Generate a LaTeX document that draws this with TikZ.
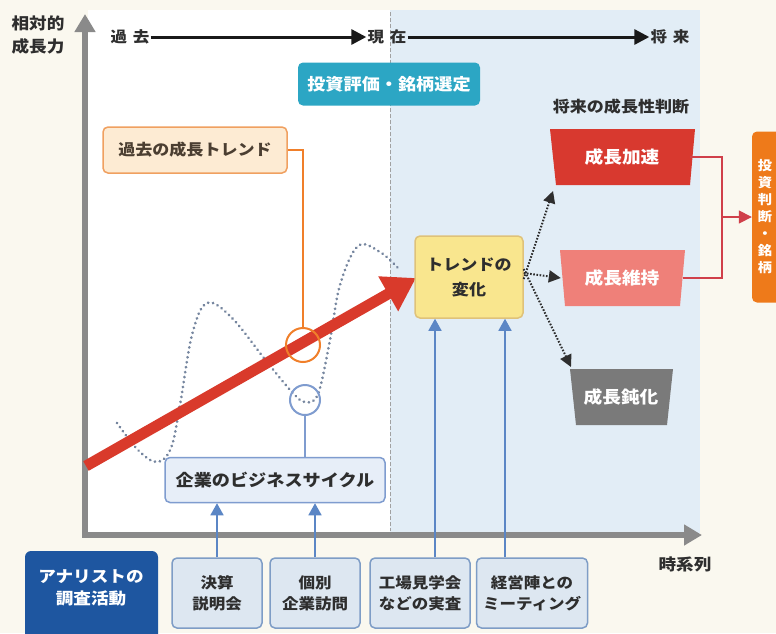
\documentclass[tikz,border=0pt]{standalone}
\usepackage{fontspec}
\setmainfont{Noto Sans CJK JP}[FakeStretch=1.1]
\usetikzlibrary{arrows.meta}
\definecolor{cream}{HTML}{FAF8EF}
\definecolor{panelblue}{HTML}{E2EDF6}
\definecolor{axisgray}{HTML}{8A8A8A}
\definecolor{txt}{HTML}{2E2E2E}
\definecolor{teal}{HTML}{2CA6C4}
\definecolor{accred}{HTML}{D8392F}
\definecolor{pinkred}{HTML}{EF8079}
\definecolor{slowgray}{HTML}{7A7A7A}
\definecolor{outorange}{HTML}{EE7A1A}
\definecolor{trendred}{HTML}{D93A2B}
\definecolor{orangeline}{HTML}{F07F2A}
\definecolor{peach}{HTML}{FDEBD3}
\definecolor{peachborder}{HTML}{F0A060}
\definecolor{yellowfill}{HTML}{F9E68E}
\definecolor{yellowborder}{HTML}{DFC27A}
\definecolor{bizfill}{HTML}{E7EEF8}
\definecolor{bizborder}{HTML}{7F9CCF}
\definecolor{botfill}{HTML}{DDE7F1}
\definecolor{botborder}{HTML}{7E9DC6}
\definecolor{arrowblue}{HTML}{5B86C5}
\definecolor{navy}{HTML}{1E56A0}
\definecolor{wavegray}{HTML}{76869F}
\definecolor{connred}{HTML}{D0404A}
\newcommand\fsz[2]{\fontsize{#1}{#2}\selectfont\bfseries}
\tikzset{
  lbl/.style={inner sep=1pt, text=txt, align=center},
  panelbox/.style={rounded corners=5pt, align=center, inner sep=0pt},
  lightbox/.style={panelbox, draw=botborder, fill=botfill, line width=1.5pt, text=txt, font=\fsz{15}{21}},
  upblue/.style={draw=arrowblue, line width=1.6pt, -{Triangle[length=12pt,width=13pt]}},
  dotarrow/.style={draw=txt, line width=2pt, dash pattern=on 1.6pt off 1.6pt, -{Triangle[length=12pt,width=12pt]}},
  blackarrow/.style={draw=black!90, line width=3pt, -{Triangle[length=15pt,width=15pt]}},
  trap/.style={inner sep=0pt, text=white, font=\fsz{17}{20}},
}
\begin{document}
\begin{tikzpicture}[x=1pt,y=-1pt]
\useasboundingbox (0,0) rectangle (776,633);
\clip (0,0) rectangle (776,633);
% backgrounds
\fill[cream] (0,0) rectangle (776,633);
\fill[white] (88,10) rectangle (390,533);
\fill[panelblue] (390,10) rectangle (700,533);
\draw[axisgray!80, line width=0.8pt, dash pattern=on 4pt off 2pt] (390,12) -- (390,531);
% axes
\coordinate (orig) at (85,535);
\coordinate (ytop) at (85,14);
\coordinate (xend) at (702,535);
\draw[axisgray, line width=6pt, -{Triangle[length=18pt,width=20pt]}] (orig) -- (ytop);
\draw[axisgray, line width=6pt, -{Triangle[length=18pt,width=20pt]}] ([xshift=-3pt]orig) -- (xend);
% axis labels
\node[lbl, font=\fsz{16}{23}] (ylab) at (38,35) {相対的\\成長力};
\node[lbl, font=\fsz{16}{20}] (xlab) at (685,564) {時系列};
% top time arrows
\node[lbl, font=\fsz{15}{18}] (past) at (130,37) {過\hspace{6pt}去};
\node[lbl, font=\fsz{15}{18}] (now) at (387,37) {現\hspace{6pt}在};
\node[lbl, font=\fsz{15}{18}] (fut) at (670,37) {将\hspace{6pt}来};
\draw[blackarrow] (past.east) -- (now.west);
\draw[blackarrow] (now.east) -- (fut.west);
% evaluation title
\node[panelbox, fill=teal, text=white, font=\fsz{16.5}{20}, minimum width=182pt, minimum height=43pt] (eval) at (389,84) {投資評価・銘柄選定};
% wave curve
\draw[wavegray, line width=3pt, dash pattern=on 0.01pt off 5pt, line cap=round]
  plot[smooth, tension=0.6] coordinates {(117,423) (138,450) (157,462) (171,448) (180,405) (192,335) (207,303) (232,318) (267,362) (292,392) (305,402) (318,394) (330,340) (340,285) (358,246) (380,252) (398,268)};
% trend arrow
\coordinate (tstart) at (86,466);
\coordinate (ttip) at (416,278);
\draw[trendred, line width=11pt, -{Triangle[length=32pt,width=38pt]}] (tstart) -- (ttip);
% circles
\node[circle, draw=orangeline, line width=2pt, minimum size=34pt, inner sep=0pt] (ocirc) at (303,345) {};
\node[circle, draw=bizborder, line width=2pt, minimum size=30pt, inner sep=0pt] (bcirc) at (305,400) {};
% past trend box
\node[panelbox, draw=peachborder, fill=peach, line width=1.5pt, text=txt!80!brown, font=\fsz{15.5}{20}, minimum width=184pt, minimum height=46pt] (ptrend) at (195,150) {過去の成長トレンド};
\draw[orangeline, line width=2pt] (ptrend.east) -| (ocirc.north);
% business cycle box
\node[panelbox, draw=bizborder, fill=bizfill, line width=1.5pt, text=txt, font=\fsz{16.5}{20}, minimum width=220pt, minimum height=45pt] (biz) at (275,480) {企業のビジネスサイクル};
\draw[bizborder, line width=2pt] (bcirc.south) -- (biz.north -| bcirc.south);
% trend change box
\node[panelbox, draw=yellowborder, fill=yellowfill, line width=1.5pt, text=txt, font=\fsz{15.5}{25}, minimum width=108pt, minimum height=82pt] (tchange) at (469,277) {トレンドの\\変化};
% future judgement
\node[lbl, font=\fsz{15.5}{20}] (judge) at (621,107) {将来の成長性判断};
\fill[accred] (550,129) -- (695,129) -- (690,185) -- (556,185) -- cycle;
\node[trap, minimum width=136pt, minimum height=56pt] (accel) at (622,157) {成長加速};
\fill[pinkred] (560,250) -- (685,250) -- (680,306) -- (565,306) -- cycle;
\node[trap, minimum width=122pt, minimum height=56pt] (maint) at (622,278) {成長維持};
\fill[slowgray] (570,369) -- (673,369) -- (667,425) -- (576,425) -- cycle;
\node[trap, minimum width=100pt, minimum height=56pt] (slow) at (621,397) {成長鈍化};
% dotted arrows
\coordinate (a1) at (553,191);
\coordinate (a3) at (571,367);
\draw[dotarrow] ([yshift=-2pt]tchange.east) -- (a1);
\draw[dotarrow] ([yshift=4pt]tchange.east) -- (maint.west);
\draw[dotarrow] ([yshift=8pt]tchange.east) -- (a3);
% output box
\node[panelbox, fill=outorange, minimum width=38pt, minimum height=171pt] (out) at (771,217) {};
\node[lbl, text=white, font=\fsz{13}{17}] (outtext) at (765,217) {投\\資\\判\\断\\・\\銘\\柄};
\coordinate (jx) at (722,0);
\draw[connred, line width=1.6pt] (accel.east) -- (accel.east -| jx) -- (maint.east -| jx) -- (maint.east);
\draw[connred, line width=1.6pt, -{Triangle[length=13pt,width=13pt]}] (jx |- out.west) -- (out.west);
% bottom boxes
\fill[navy, rounded corners=6pt] (25,551) rectangle (158,660);
\node[lbl, text=white, font=\fsz{16}{22}] (analyst) at (91,588) {アナリストの\\調査活動};
\node[lightbox, minimum width=90pt, minimum height=70pt] (kessan) at (217,593) {決算\\説明会};
\node[lightbox, minimum width=90pt, minimum height=70pt] (kobetsu) at (315,593) {個別\\企業訪問};
\node[lightbox, minimum width=100pt, minimum height=70pt] (kojo) at (420,593) {工場見学会\\などの実査};
\node[lightbox, minimum width=111pt, minimum height=70pt] (keiei) at (532,593) {経営陣との\\ミーティング};
\coordinate (k1) at (435,0);
\coordinate (k2) at (505,0);
\draw[upblue] (kessan.north) -- (biz.south -| kessan.north);
\draw[upblue] (kobetsu.north) -- (biz.south -| kobetsu.north);
\draw[upblue] (kojo.north -| k1) -- (tchange.south -| k1);
\draw[upblue] (keiei.north -| k2) -- (tchange.south -| k2);
\end{tikzpicture}
\end{document}
